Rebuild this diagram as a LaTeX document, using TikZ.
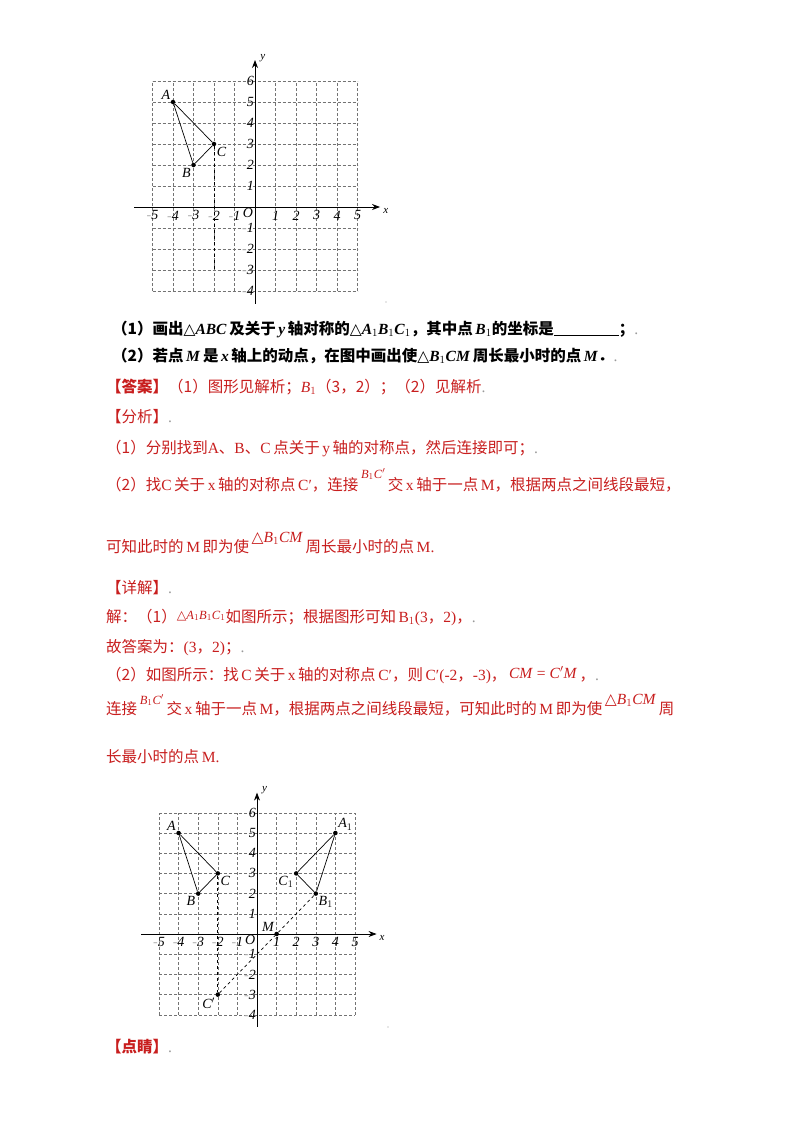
\documentclass[tikz,border=0pt]{standalone}
\usepackage{fontspec}
\setmainfont{Liberation Serif}
\newfontfamily\cjk{Noto Sans CJK SC}
\newfontfamily\djv{DejaVu Sans}
\usetikzlibrary{arrows.meta}
\definecolor{ans}{RGB}{200,30,30}
\newcommand{\zh}[1]{{\cjk #1}}
\newcommand{\trig}{{\djv\fontseries{m}\selectfont △}}
\newcommand{\negmk}{\textcolor{black!30}{-}}
\newcommand{\smallf}{\fontsize{12.5}{13}\selectfont}
\tikzset{
  txt/.style={anchor=base west,inner sep=0pt,font=\fontsize{15.5}{17}\selectfont},
  rtxt/.style={txt,text=ans},
  gridl/.style={black!55,densely dashed,line width=0.5pt},
  axis/.style={-{Stealth[length=8pt,width=6pt]},line width=0.8pt},
  tri/.style={line width=0.7pt},
  dot/.style={circle,fill,inner sep=1.6pt},
  lab/.style={inner sep=1pt,font=\fontsize{14}{14}\selectfont\itshape},
  tick/.style={inner sep=1pt,font=\fontsize{14}{14}\selectfont\itshape},
  aux/.style={dashed,line width=0.7pt}
}
\newcommand{\plane}{%
  \foreach \i in {-5,...,5} \draw[gridl] (\i,-4) -- (\i,6);
  \foreach \j in {-4,...,6} \draw[gridl] (-5,\j) -- (5,\j);
  \coordinate (xs) at (-5.9,0); \coordinate (xe) at (6.1,0);
  \coordinate (ys) at (0,-4.6); \coordinate (ye) at (0,7);
  \draw[axis] (xs) -- (xe); \draw[axis] (ys) -- (ye);
  \node[lab,anchor=west] (xl) at (6.2,-0.2) {\fontsize{11}{11}\selectfont x};
  \node[lab,anchor=west] (yl) at (0.2,7.1) {\fontsize{11}{11}\selectfont y};
  \foreach \i in {1,...,5} {\node[tick] (tp\i) at (\i,-0.4) {\i}; \node[tick] (tn\i) at (-\i,-0.4) {\negmk\i};}
  \foreach \j in {1,...,6} \node[tick,anchor=east] (ty\j) at (0,\j) {\j};
  \foreach \j in {1,...,4} \node[tick,anchor=east] (tyn\j) at (0,-\j) {\negmk\j};
  \node[tick] (O) at (-0.35,-0.3) {O};
  \node[dot] (A) at (-4,5) {}; \node[dot] (B) at (-3,2) {}; \node[dot] (C) at (-2,3) {};
  \draw[tri] (A) -- (B) -- (C) -- (A);
  \node[lab,anchor=south east] at (A.north west) {A};
  \node[lab,anchor=north east] at (B.south west) {B};
  \node[lab,anchor=north west] at (C.south east) {C};
}
\begin{document}
\begin{tikzpicture}[x=1pt,y=1pt]
\fill[white] (0,0) rectangle (800,-1132);
\useasboundingbox (0,0) rectangle (800,-1132);
% top graph
\begin{scope}[shift={(255,-207)},x=20.5pt,y=21pt]
  \plane
  \coordinate (Cd) at (-2,-3);
  \draw[aux] (C) -- (Cd);
\end{scope}
\node[circle,fill=black!40,inner sep=0.4pt] (d1) at (386,-302) {};
% texts
\node[txt] (l1) at (112,-334) {\textbf{\zh{（1）画出}\trig\textit{ABC}\,\zh{及关于}\,\textit{y}\,\zh{轴对称的}\trig\textit{A}$_1$\textit{B}$_1$\textit{C}$_1$\zh{，其中点}\,\textit{B}$_1$\zh{的坐标是}\underline{\hspace{4.2em}}\zh{；}}\textcolor{black!40}{.}};
\node[txt] (l2) at (112,-361) {\textbf{\zh{（2）若点}\,\textit{M}\,\zh{是}\,\textit{x}\,\zh{轴上的动点，在图中画出使}\trig\textit{B}$_1$\textit{CM}\,\zh{周长最小时的点}\,\textit{M}\zh{．}}\textcolor{black!40}{.}};
\node[rtxt] (l3) at (106,-392) {\textbf{\zh{【答案】}}\zh{（1）图形见解析；}\textit{B}$_1$\zh{（3，2）；（2）见解析}\textcolor{black!40}{.}};
\node[rtxt] (l4) at (106,-422) {\zh{【分析】}\textcolor{black!40}{.}};
\node[rtxt] (l5) at (106,-453) {\zh{（1）分别找到}A\zh{、}B\zh{、}C\,\zh{点关于}\,y\,\zh{轴的对称点，然后连接即可；}\textcolor{black!40}{.}};
\node[rtxt] (l6) at (106,-490) {\zh{（2）找}C\,\zh{关于}\,x\,\zh{轴的对称点}\,C′\zh{，连接}\,\raisebox{12pt}{\smallf\textit{B}$_1$\textit{C}$'$}\,\zh{交}\,x\,\zh{轴于一点}\,M\zh{，根据两点之间线段最短，}};
\node[rtxt] (l7) at (106,-552) {\zh{可知此时的}\,M\,\zh{即为使}\,\raisebox{10pt}{\trig\textit{B}$_1$\textit{CM}}\,\zh{周长最小时的点}\,M.};
\node[rtxt] (l8) at (106,-593) {\zh{【详解】}\textcolor{black!40}{.}};
\node[rtxt] (l9) at (106,-622) {\zh{解：（1）}\raisebox{3pt}{\smallf\trig\textit{A}$_1$\textit{B}$_1$\textit{C}$_1$}\zh{如图所示；根据图形可知}\,B$_1$(3\zh{，}2)\zh{，}\textcolor{black!40}{.}};
\node[rtxt] (l10) at (106,-652) {\zh{故答案为：}(3\zh{，}2)\zh{；}\textcolor{black!40}{.}};
\node[rtxt] (l11) at (106,-680) {\zh{（2）如图所示：找}\,C\,\zh{关于}\,x\,\zh{轴的对称点}\,C′\zh{，则}\,C′(-2\zh{，}-3)\zh{，}\,\raisebox{2pt}{\textit{CM} = \textit{C}$'$\textit{M}}\,\zh{，}\textcolor{black!40}{.}};
\node[rtxt] (l12) at (106,-714) {\zh{连接}\,\raisebox{10pt}{\smallf\textit{B}$_1$\textit{C}$'$}\,\zh{交}\,x\,\zh{轴于一点}\,M\zh{，根据两点之间线段最短，可知此时的}\,M\,\zh{即为使}\,\raisebox{10pt}{\trig\textit{B}$_1$\textit{CM}}\,\zh{周}};
\node[rtxt] (l13) at (106,-762) {\zh{长最小时的点}\,M.};
% bottom graph
\begin{scope}[shift={(257,-934)},x=19.6pt,y=20.2pt]
  \plane
  \node[dot] (A1) at (4,5) {}; \node[dot] (B1) at (3,2) {}; \node[dot] (C1) at (2,3) {};
  \draw[tri] (A1) -- (B1) -- (C1) -- (A1);
  \node[lab,anchor=south west] at (A1.north east) {A$_1$};
  \node[lab,anchor=north west] at (B1.south east) {B$_1$};
  \node[lab,anchor=north east] at (C1.south west) {C$_1$};
  \node[dot] (Cp) at (-2,-3) {};
  \node[dot] (M) at (1,0) {};
  \node[lab,anchor=south east] at (M.north west) {M};
  \node[lab,anchor=north east] at (Cp.south west) {C$'$};
  \draw[aux] (C) -- (Cp);
  \draw[aux] (Cp) -- (M) -- (B1);
\end{scope}
\node[circle,fill=black!40,inner sep=0.4pt] (d2) at (388,-1027) {};
\node[rtxt] (l14) at (106,-1052) {\textbf{\zh{【点睛】}}\textcolor{black!40}{.}};
\end{tikzpicture}
\end{document}
